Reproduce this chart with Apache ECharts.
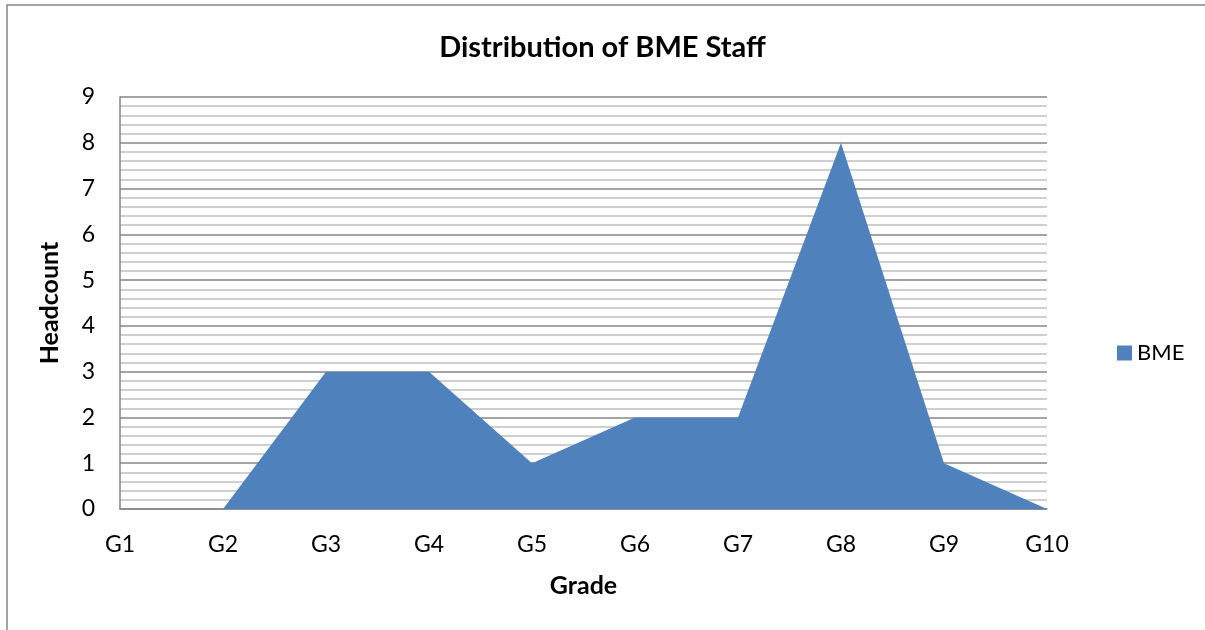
<!DOCTYPE html>
<html>
<head>
<meta charset="utf-8">
<script src="https://cdn.jsdelivr.net/npm/echarts@6/dist/echarts.min.js"></script>
<style>
  html, body { margin: 0; padding: 0; background: #fff; }
  #chart { width: 1205px; height: 630px; }
</style>
</head>
<body>
<div id="chart"></div>
<script>
const grades = ['G1', 'G2', 'G3', 'G4', 'G5', 'G6', 'G7', 'G8', 'G9', 'G10'];
const bmeCounts = [0, 0, 3, 3, 1, 2, 2, 8, 1, 0];
const yTicks = { min: 0, max: 9, interval: 1 };

const font = 'Lato, "Open Sans", sans-serif';
const myChart = echarts.init(document.getElementById('chart'));

const option = {
    animation: false,
    textStyle: { fontFamily: font },
    title: {
        text: 'Distribution of BME Staff',
        left: 'center',
        top: 28,
        textStyle: { fontFamily: font, fontSize: 29, fontWeight: 'bold', color: '#000' }
    },
    legend: {
        data: ['BME'],
        orient: 'vertical',
        left: 1112,
        top: 337,
        itemWidth: 15,
        itemHeight: 15,
        itemGap: 8,
        icon: 'rect',
        textStyle: { fontFamily: font, fontSize: 22, color: '#000' }
    },
    grid: {
        left: 120,
        right: 158,
        top: 97,
        bottom: 121
    },
    xAxis: {
        type: 'category',
        data: grades,
        boundaryGap: false,
        name: 'Grade',
        nameLocation: 'middle',
        nameGap: 64,
        nameTextStyle: { fontFamily: font, fontSize: 25, fontWeight: 'bold', color: '#000' },
        axisLine: { lineStyle: { color: '#868686', width: 1.5 } },
        axisTick: { show: false },
        axisLabel: { fontFamily: font, fontSize: 23, color: '#000', margin: 24 },
        splitLine: { show: false }
    },
    yAxis: {
        type: 'value',
        min: yTicks.min,
        max: yTicks.max,
        interval: yTicks.interval,
        name: 'Headcount',
        nameLocation: 'middle',
        nameGap: 58,
        nameRotate: 90,
        nameTextStyle: { fontFamily: font, fontSize: 25, fontWeight: 'bold', color: '#000' },
        axisLine: { show: true, lineStyle: { color: '#868686', width: 1.5 } },
        axisTick: { show: false },
        axisLabel: { fontFamily: font, fontSize: 23, color: '#000', margin: 25 },
        splitLine: { show: true, lineStyle: { color: '#868686', width: 1.5 } },
        minorTick: { show: false, splitNumber: 5 },
        minorSplitLine: { show: true, lineStyle: { color: '#c0c0c0', width: 1.5 } }
    },
    series: [
        {
            name: 'BME',
            type: 'line',
            data: bmeCounts,
            symbol: 'none',
            itemStyle: { color: '#4F81BD' },
            lineStyle: { color: '#4F81BD', width: 0 },
            areaStyle: { color: '#4F81BD', opacity: 1 }
        }
    ],
    graphic: [
        {
            type: 'rect',
            shape: { x: 7, y: 5, width: 1300, height: 700 },
            style: { fill: 'none', stroke: '#868686', lineWidth: 1.5 },
            silent: true
        }
    ]
};
myChart.setOption(option);
</script>
</body>
</html>
